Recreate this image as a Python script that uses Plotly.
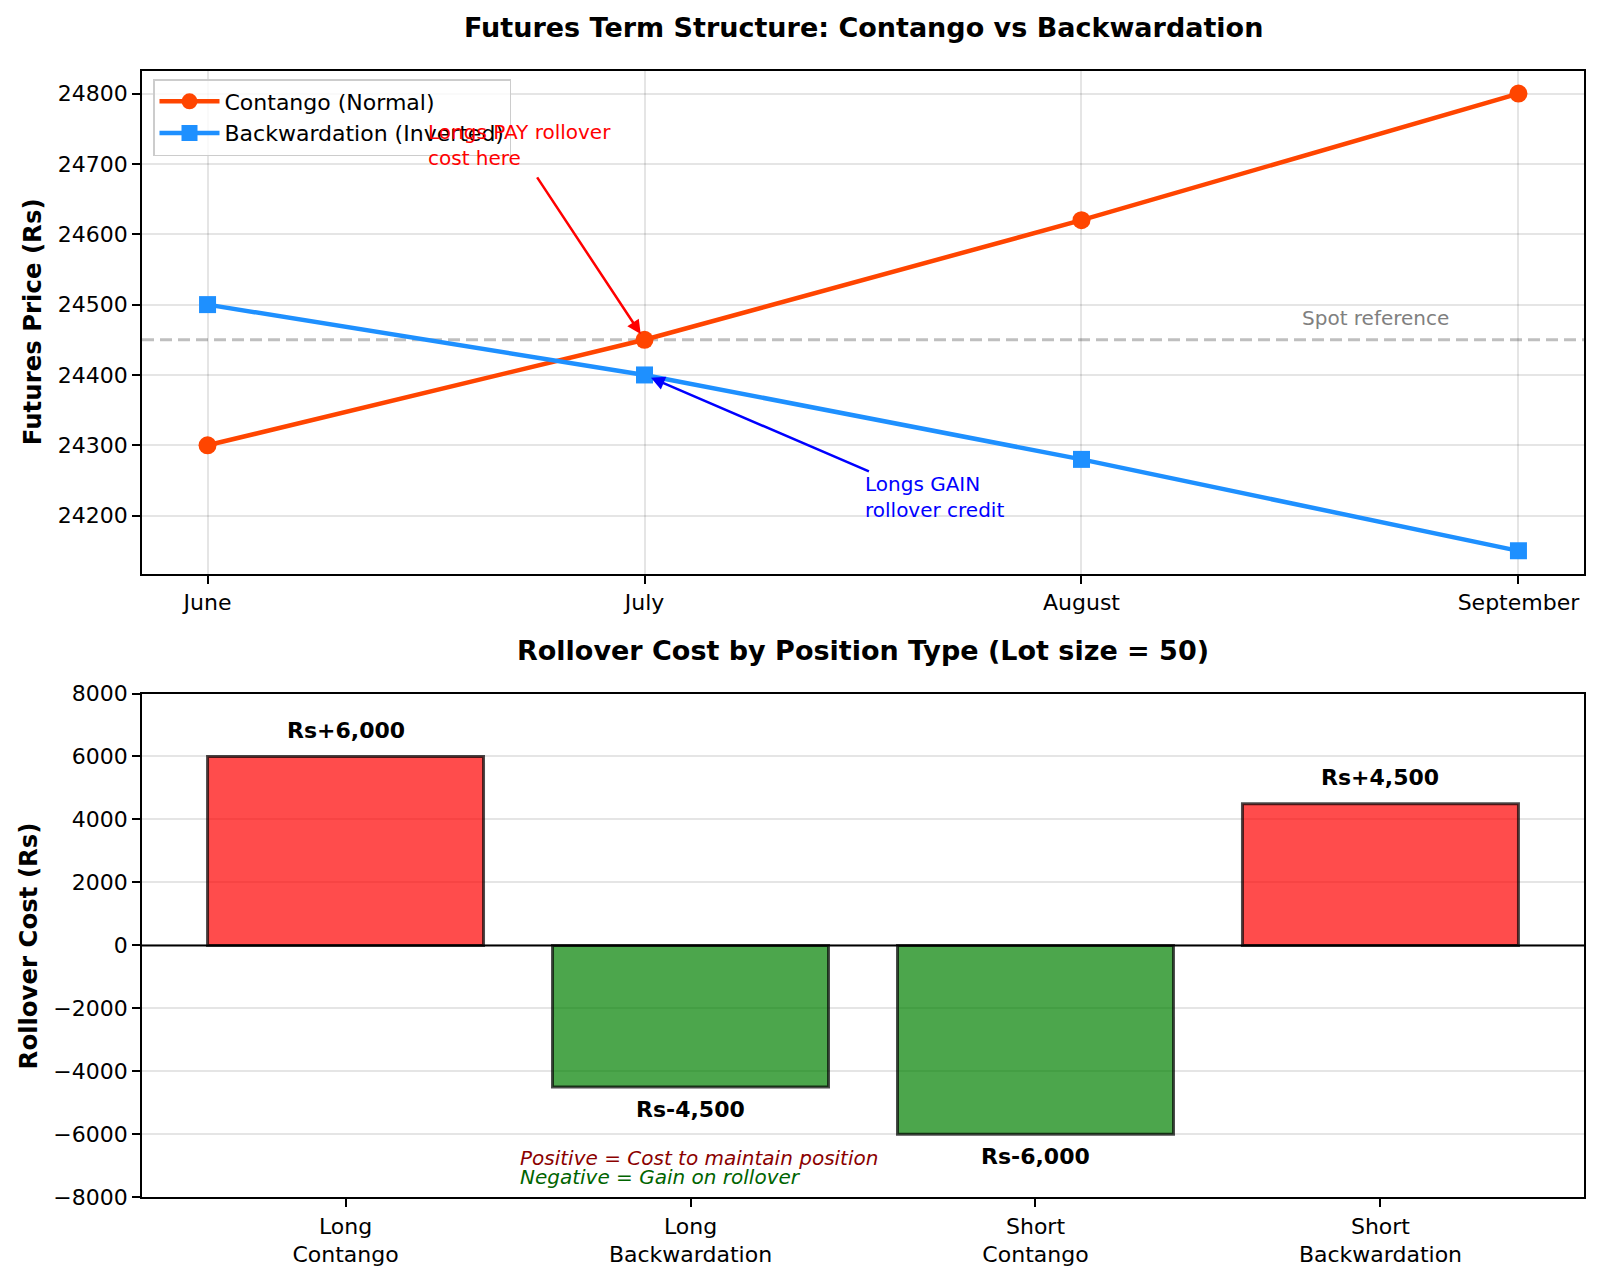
import plotly.graph_objects as go

# ---------------- data ----------------
months = ["June", "July", "August", "September"]
contango = [24300, 24450, 24620, 24800]
backwardation = [24500, 24400, 24280, 24150]
spot_level = 24450
positions = ["Long\nContango", "Long\nBackwardation", "Short\nContango", "Short\nBackwardation"]
rollover_cost = [6000, -4500, -6000, 4500]
cost_labels = ["Rs+6,000", "Rs-4,500", "Rs-6,000", "Rs+4,500"]

# ---------------- layout constants ----------------
W, H = 1600, 1278
ML, MR, MT, MB = 142, 16, 70, 78
PH = H - MT - MB
FONT = "DejaVu Sans"


def py(px):
    """pixel row -> paper y"""
    return min(1.0, max(0.0, (H - MB - px) / PH))


def pxx(px):
    return (px - ML) / (W - ML - MR)


fig = go.Figure()

x_idx = list(range(len(months)))

fig.add_trace(go.Scatter(
    x=x_idx, y=contango, mode="lines+markers", name="Contango (Normal)",
    line=dict(color="#FF4500", width=4.5),
    marker=dict(symbol="circle", size=18, color="#FF4500"),
    xaxis="x", yaxis="y"))
fig.add_trace(go.Scatter(
    x=x_idx, y=backwardation, mode="lines+markers", name="Backwardation (Inverted)",
    line=dict(color="#1E90FF", width=4.5),
    marker=dict(symbol="square", size=17, color="#1E90FF"),
    xaxis="x", yaxis="y"))

bar_colors = ["rgba(255,0,0,0.7)" if v > 0 else "rgba(0,128,0,0.7)" for v in rollover_cost]
fig.add_trace(go.Bar(
    x=list(range(len(positions))), y=rollover_cost, width=0.8,
    marker=dict(color=bar_colors, line=dict(color="rgba(0,0,0,0.7)", width=3)),
    showlegend=False, xaxis="x2", yaxis="y2"))

axis_common = dict(
    showline=True, mirror=True, linecolor="black", linewidth=1.8,
    ticks="outside", ticklen=8, tickwidth=1.8, tickcolor="black",
    tickfont=dict(family=FONT, size=22, color="black"),
    zeroline=False, gridcolor="rgba(0,0,0,0.1)", gridwidth=1.6,
)

top_dom = [py(573.7), py(70.7)]
bot_dom = [py(1197.3), py(693.5)]

fig.update_layout(
    width=W, height=H,
    margin=dict(l=ML, r=MR, t=MT, b=MB),
    paper_bgcolor="white", plot_bgcolor="white",
    font=dict(family=FONT, size=22, color="black"),
    xaxis=dict(axis_common, domain=[0, 1], anchor="y", range=[-0.15, 3.15],
               tickvals=x_idx, ticktext=months, showgrid=True, ticklabelstandoff=0),
    yaxis=dict(axis_common, domain=top_dom, anchor="x", range=[24117.5, 24832.5],
               tickvals=[24200, 24300, 24400, 24500, 24600, 24700, 24800],
               tickformat="d", showgrid=True, ticklabelstandoff=0),
    xaxis2=dict(axis_common, domain=[0, 1], anchor="y2", range=[-0.59, 3.59],
                tickvals=list(range(len(positions))),
                ticktext=[p.replace("\n", "<br>") for p in positions],
                showgrid=False, ticklabelstandoff=0),
    yaxis2=dict(axis_common, domain=bot_dom, anchor="x2", range=[-8000, 8000],
                tickvals=[-8000, -6000, -4000, -2000, 0, 2000, 4000, 6000, 8000],
                tickformat="d", showgrid=True, ticklabelstandoff=0),
    legend=dict(x=pxx(153), y=py(79), xanchor="left", yanchor="top",
                bgcolor="rgba(255,255,255,0.8)", bordercolor="#cccccc", borderwidth=1.5,
                font=dict(family=FONT, size=22, color="black"), itemwidth=60,
                tracegroupgap=0),
    showlegend=True,
)

# spot reference line and zero line
fig.add_shape(type="line", xref="x domain", yref="y", x0=0, x1=1, y0=spot_level, y1=spot_level,
              line=dict(color="rgba(128,128,128,0.5)", width=3, dash="12px,6px"), layer="below")
fig.add_shape(type="line", xref="x2 domain", yref="y2", x0=0, x1=1, y0=0, y1=0,
              line=dict(color="black", width=2), layer="above")

ann = []
# titles
ann.append(dict(text="<b>Futures Term Structure: Contango vs Backwardation</b>", xref="paper", yref="paper",
                x=0.5, y=(H - MB - 27.6) / PH, xanchor="center", yanchor="middle", showarrow=False,
                font=dict(family=FONT, size=27, color="black")))
ann.append(dict(text="<b>Rollover Cost by Position Type (Lot size = 50)</b>", xref="paper", yref="paper",
                x=0.5, y=py(650), xanchor="center", yanchor="middle", showarrow=False,
                font=dict(family=FONT, size=27, color="black")))
# y-axis titles
ann.append(dict(text="<b>Futures Price (Rs)</b>", xref="paper", yref="paper",
                x=pxx(32), y=(top_dom[0] + top_dom[1]) / 2, xanchor="center", yanchor="middle",
                textangle=-90, showarrow=False, font=dict(family=FONT, size=24.4, color="black")))
ann.append(dict(text="<b>Rollover Cost (Rs)</b>", xref="paper", yref="paper",
                x=pxx(28), y=(bot_dom[0] + bot_dom[1]) / 2, xanchor="center", yanchor="middle",
                textangle=-90, showarrow=False, font=dict(family=FONT, size=24.4, color="black")))

# spot reference text
ann.append(dict(text="Spot reference", xref="x", yref="y", x=2.672, y=24481,
                xanchor="center", yanchor="middle", showarrow=False,
                font=dict(family=FONT, size=20, color="gray")))

# red annotation: text + arrow
ann.append(dict(text="Longs PAY rollover<br>cost here", xref="x", yref="y", x=0.5, y=24700,
                xanchor="left", yanchor="bottom", align="left", showarrow=False, yshift=-8,
                font=dict(family=FONT, size=20, color="red")))
ann.append(dict(text="", xref="x", yref="y", x=1, y=spot_level, axref="x", ayref="y",
                ax=0.752, ay=24683, showarrow=True, arrowhead=2, arrowsize=1.1, arrowwidth=2.5,
                arrowcolor="red", standoff=7))
# blue annotation
ann.append(dict(text="Longs GAIN<br>rollover credit", xref="x", yref="y", x=1.5, y=24200,
                xanchor="left", yanchor="bottom", align="left", showarrow=False, yshift=-8,
                font=dict(family=FONT, size=20, color="blue")))
ann.append(dict(text="", xref="x", yref="y", x=1, y=24400, axref="x", ayref="y",
                ax=1.517, ay=24262, showarrow=True, arrowhead=2, arrowsize=1.1, arrowwidth=2.5,
                arrowcolor="blue", standoff=7))

# bar value labels
for i, (v, lab) in enumerate(zip(rollover_cost, cost_labels)):
    ann.append(dict(text=f"<b>{lab}</b>", xref="x2", yref="y2", x=i, y=v,
                    xanchor="center", yanchor="middle", showarrow=False,
                    yshift=26 if v > 0 else -22,
                    font=dict(family=FONT, size=22, color="black")))

# notes
ann.append(dict(text="<i>Positive = Cost to maintain position</i>", xref="x2", yref="y2",
                x=0.5, y=-6752, xanchor="left", yanchor="middle", showarrow=False,
                font=dict(family=FONT, size=20, color="#8B0000")))
ann.append(dict(text="<i>Negative = Gain on rollover</i>", xref="x2", yref="y2",
                x=0.5, y=-7371, xanchor="left", yanchor="middle", showarrow=False,
                font=dict(family=FONT, size=20, color="#006400")))

fig.update_layout(annotations=ann)

fig.write_html("out.html")
